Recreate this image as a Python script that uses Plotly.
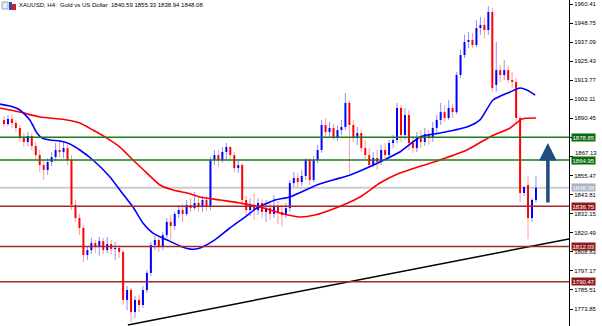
import plotly.graph_objects as go

# ---- data (XAUUSD H4 candles) ----
opens = [1889.5,1887.0,1890.1,1887.6,1884.6,1878.4,1876.0,1879.7,1873.6,1868.0,
         1861.9,1858.9,1863.8,1866.8,1871.1,1869.9,1872.3,1865.0,1837.5,1829.5,
         1823.4,1806.9,1809.9,1814.2,1811.8,1815.4,1809.9,1813.6,1810.5,1811.2,
         1808.7,1779.4,1785.5,1772.0,1779.4,1776.3,1785.5,1795.9,1813.0,1816.1,
         1811.8,1819.1,1827.1,1824.6,1832.0,1834.4,1832.0,1837.5,1835.6,1838.7,
         1836.2,1840.5,1836.9,1865.0,1868.0,1865.0,1869.9,1872.9,1868.0,1860.1,
         1861.9,1840.5,1834.4,1837.5,1834.4,1838.7,1833.2,1835.6,1832.0,1836.9,
         1833.2,1831.3,1835.6,1850.9,1854.0,1851.5,1855.2,1865.0,1852.8,1865.0,
         1871.1,1886.4,1882.1,1884.6,1878.4,1883.3,1885.2,1899.9,1886.4,1878.4,
         1881.5,1872.3,1868.0,1861.9,1866.2,1863.8,1871.1,1868.0,1875.4,1877.2,
         1896.8,1880.3,1892.5,1875.4,1872.3,1878.4,1876.0,1880.9,1878.4,1884.6,
         1889.5,1894.3,1890.7,1896.8,1894.3,1917.0,1929.2,1937.2,1938.4,1935.3,
         1945.7,1947.6,1944.5,1955.5,1910.9,1920.0,1917.0,1920.0,1913.9,1912.7,
         1890.7,1844.8,1849.7,1829.5,1840.59]
highs = [1891.9,1892.5,1893.1,1889.5,1886.4,1881.5,1882.1,1881.5,1876.0,1871.1,
         1865.0,1866.2,1869.9,1875.4,1877.2,1876.0,1874.2,1868.0,1840.5,1832.0,
         1824.6,1812.4,1817.3,1816.1,1817.9,1817.3,1817.9,1816.1,1814.8,1813.0,
         1809.9,1787.9,1786.7,1781.8,1782.4,1787.9,1797.7,1814.8,1818.5,1817.9,
         1821.0,1829.5,1831.3,1833.2,1837.5,1838.1,1840.5,1841.7,1845.4,1842.4,
         1843.0,1842.4,1866.8,1871.1,1871.1,1872.9,1875.4,1873.6,1869.9,1865.0,
         1863.2,1843.0,1841.7,1844.8,1841.7,1841.1,1840.5,1839.3,1843.6,1839.9,
         1837.5,1838.7,1852.8,1857.6,1857.0,1858.9,1866.2,1866.2,1867.4,1874.2,
         1889.5,1890.7,1888.2,1887.0,1885.8,1889.5,1906.0,1901.7,1889.5,1885.2,
         1883.3,1877.2,1872.3,1869.9,1871.1,1874.2,1875.4,1877.2,1880.3,1899.9,
         1898.6,1896.8,1895.6,1879.7,1882.1,1883.3,1884.6,1883.3,1888.2,1892.5,
         1899.9,1898.6,1901.7,1899.2,1918.8,1932.3,1941.5,1943.3,1942.7,1950.6,
         1952.5,1951.9,1959.2,1958.0,1937.2,1923.1,1926.2,1922.5,1918.8,1915.1,
         1891.9,1849.1,1855.2,1841.7,1855.33]
lows = [1885.2,1885.8,1884.6,1882.1,1876.0,1872.9,1873.6,1871.1,1865.0,1857.6,
        1852.8,1855.8,1861.3,1865.0,1866.8,1866.2,1861.9,1834.4,1827.1,1819.1,
        1802.6,1803.8,1807.5,1808.1,1806.3,1807.5,1808.1,1807.5,1803.8,1805.0,
        1776.3,1773.2,1765.9,1768.3,1772.0,1774.5,1783.6,1794.0,1809.9,1808.7,
        1809.9,1817.3,1816.1,1822.2,1829.5,1827.1,1830.7,1833.2,1834.4,1833.2,
        1833.2,1833.8,1834.4,1861.9,1860.7,1863.2,1865.0,1865.0,1857.6,1857.0,
        1837.5,1831.3,1830.7,1828.3,1831.3,1829.5,1827.1,1828.3,1829.5,1825.8,
        1824.6,1829.5,1833.2,1848.5,1847.9,1849.1,1852.8,1849.7,1851.5,1863.2,
        1869.3,1878.4,1879.1,1877.2,1876.6,1880.3,1883.3,1857.0,1876.0,1874.2,
        1869.9,1865.0,1860.1,1860.7,1858.9,1861.9,1866.2,1866.8,1872.3,1875.4,
        1876.0,1877.2,1871.1,1869.3,1869.9,1872.3,1873.6,1874.2,1876.0,1881.5,
        1886.4,1888.2,1889.5,1890.7,1893.1,1915.1,1927.4,1933.5,1933.5,1934.1,
        1941.5,1939.6,1941.5,1906.6,1906.6,1912.7,1913.9,1912.1,1909.0,1888.2,
        1839.3,1843.0,1816.7,1827.1,1838.94]
closes = [1887.0,1890.1,1887.6,1884.6,1878.4,1876.0,1879.7,1873.6,1868.0,1861.9,
          1858.9,1863.8,1866.8,1871.1,1869.9,1872.3,1865.0,1837.5,1829.5,1823.4,
          1806.9,1809.9,1814.2,1811.8,1815.4,1809.9,1813.6,1810.5,1811.2,1808.7,
          1779.4,1785.5,1772.0,1779.4,1776.3,1785.5,1795.9,1813.0,1816.1,1811.8,
          1819.1,1827.1,1824.6,1832.0,1834.4,1832.0,1837.5,1835.6,1838.7,1836.2,
          1840.5,1836.9,1865.0,1868.0,1865.0,1869.9,1872.9,1868.0,1860.1,1861.9,
          1840.5,1834.4,1837.5,1834.4,1838.7,1833.2,1835.6,1832.0,1836.9,1833.2,
          1831.3,1835.6,1850.9,1854.0,1851.5,1855.2,1865.0,1852.8,1865.0,1871.1,
          1886.4,1882.1,1884.6,1878.4,1883.3,1885.2,1899.9,1886.4,1878.4,1881.5,
          1872.3,1868.0,1861.9,1866.2,1863.8,1871.1,1868.0,1875.4,1877.2,1896.8,
          1880.3,1892.5,1875.4,1872.3,1878.4,1876.0,1880.9,1878.4,1884.6,1889.5,
          1894.3,1890.7,1896.8,1894.3,1917.0,1929.2,1937.2,1938.4,1935.3,1945.7,
          1947.6,1944.5,1955.5,1909.0,1920.0,1917.0,1920.0,1913.9,1912.7,1890.7,
          1844.8,1848.5,1829.5,1840.5,1848.08]

# moving averages: bar index, price
ma_fast_x = [-1.0,1.5,4.0,6.5,8.3,9.6,11.6,14.1,16.6,19.1,22.4,26.7,29.2,32.5,35.0,37.5,
             41.1,44.3,46.9,49.4,53.1,56.9,60.7,63.7,68.3,72.0,78.8,82.9,87.2,91.4,
             94.7,99.7,104.8,109.8,116.6,119.9,123.2,127.5,130.0,131.7,133.8]
ma_fast_y = [1899.2,1898.0,1895.6,1889.5,1881.5,1878.4,1877.2,1876.6,1874.8,1871.1,1865.0,
             1854.6,1846.6,1836.2,1826.4,1820.3,1816.1,1812.4,1810.5,1811.2,1816.1,1823.4,
             1830.1,1835.6,1840.5,1842.4,1849.7,1852.8,1855.8,1860.1,1863.8,1869.9,1879.1,
             1881.5,1885.2,1889.5,1901.7,1906.6,1909.0,1907.8,1904.7]
ma_slow_x = [-1.0,4.0,9.1,15.9,19.1,22.4,25.9,29.2,32.5,36.0,39.3,42.6,46.1,49.4,54.4,
             59.4,64.5,69.5,74.6,78.3,82.9,89.7,94.7,99.7,109.8,116.6,122.4,127.5,130.5,134.0]
ma_slow_y = [1896.8,1894.3,1891.3,1889.5,1887.6,1883.3,1878.4,1872.9,1865.0,1857.0,1849.7,
             1846.6,1844.8,1842.4,1840.5,1838.7,1836.2,1832.6,1830.1,1831.3,1835.0,1842.4,
             1850.9,1857.0,1865.0,1871.1,1879.1,1884.6,1890.1,1890.7]

green_levels = [1878.85, 1864.95]
red_levels = [1836.75, 1812.03, 1790.47]
current_price = 1848.08
trend_x = [31.2, 142.3]
trend_y = [1764.1, 1816.7]
arrow_x = 137.0
arrow_from = 1838.1
arrow_to = 1875.4
tick_vals = [1960.41,1948.75,1937.09,1925.43,1913.77,1902.11,1890.45,1878.79,1867.13,
             1855.47,1843.81,1832.15,1820.49,1808.83,1797.17,1785.51,1773.85]
hidden_ticks = [1878.79]          # fully covered by a level label in the chart
nudged_ticks = [1867.13]          # partly covered: drawn just above the level label
title_text = "XAUUSD, H4:  Gold vs US Dollar  1840.59 1855.33 1838.94 1848.08"

# ---- build candle geometry from the OHLC data ----
wu_x, wu_y, wd_x, wd_y = [], [], [], []
bu_x, bu_y, bd_x, bd_y = [], [], [], []
for i, (o, h, l, c) in enumerate(zip(opens, highs, lows, closes)):
    top, bot = max(o, c), min(o, c)
    if c >= o:
        wu_x += [i, i, None, i, i, None]; wu_y += [h, top, None, bot, l, None]
        bu_x += [i, i, None]; bu_y += [bot, top, None]
    else:
        wd_x += [i, i, None, i, i, None]; wd_y += [h, top, None, bot, l, None]
        bd_x += [i, i, None]; bd_y += [bot, top, None]

fig = go.Figure()
fig.add_trace(go.Scatter(x=wu_x, y=wu_y, mode="lines", line=dict(color="#8f8fff", width=1), hoverinfo="skip"))
fig.add_trace(go.Scatter(x=wd_x, y=wd_y, mode="lines", line=dict(color="#ff9a9a", width=1), hoverinfo="skip"))
fig.add_trace(go.Scatter(x=bu_x, y=bu_y, mode="lines", line=dict(color="#0000ff", width=2), hoverinfo="skip"))
fig.add_trace(go.Scatter(x=bd_x, y=bd_y, mode="lines", line=dict(color="#ff0000", width=2), hoverinfo="skip"))
fig.add_trace(go.Scatter(x=ma_slow_x, y=ma_slow_y, mode="lines", line=dict(color="#ff0000", width=1.6, shape="spline", smoothing=0.6), hoverinfo="skip"))
fig.add_trace(go.Scatter(x=ma_fast_x, y=ma_fast_y, mode="lines", line=dict(color="#0000ff", width=1.6, shape="spline", smoothing=0.6), hoverinfo="skip"))
fig.add_trace(go.Scatter(x=trend_x, y=trend_y, mode="lines", line=dict(color="#000000", width=1.5), hoverinfo="skip"))

shapes = []
annotations = []
shapes.append(dict(type="line", xref="paper", yref="y", x0=0, x1=1, y0=current_price, y1=current_price,
                   line=dict(color="#c9cdd3", width=2), layer="below"))
for lv in green_levels:
    shapes.append(dict(type="line", xref="paper", yref="y", x0=0, x1=1, y0=lv, y1=lv,
                       line=dict(color="#1d7a1d", width=1.5), layer="above"))
for lv in red_levels:
    shapes.append(dict(type="line", xref="paper", yref="y", x0=0, x1=1, y0=lv, y1=lv,
                       line=dict(color="#a3282a", width=1.5), layer="above"))

def label(val, bg):
    annotations.append(dict(xref="paper", yref="y", x=1, y=val, xanchor="left", xshift=2,
                            text=f"{val:.2f}", showarrow=False, bgcolor=bg, borderpad=0.5,
                            font=dict(color="white", size=6, family="Liberation Sans")))

for lv in green_levels:
    label(lv, "#0b6a0b")
for lv in red_levels:
    label(lv, "#8e1c1c")
label(current_price, "#a9b3c4")

for tv in nudged_ticks:
    annotations.append(dict(xref="paper", yref="y", x=1, y=tv, xanchor="left", xshift=4, yshift=4,
                            text=f"{tv:.2f}", showarrow=False,
                            font=dict(color="#000000", size=6, family="Liberation Sans")))

annotations.append(dict(x=arrow_x, y=arrow_to, ax=arrow_x, ay=arrow_from, xref="x", yref="y",
                        axref="x", ayref="y", showarrow=True, arrowhead=2, arrowsize=1,
                        arrowwidth=3.5, arrowcolor="#1f4e7e", text=""))
annotations.append(dict(xref="paper", yref="paper", x=0, y=1, xanchor="left", yanchor="top",
                        xshift=17, yshift=0, text=title_text, showarrow=False,
                        font=dict(size=6, color="#000000", family="Liberation Sans")))

# tiny header icons
shapes.append(dict(type="rect", xref="paper", yref="paper", x0=2/569, x1=8/569, y0=1-9/326, y1=1-2/326,
                   line=dict(color="#9aa6b8", width=1), fillcolor="#e8edf5"))
shapes.append(dict(type="rect", xref="paper", yref="paper", x0=9/569, x1=12/569, y0=1-10/326, y1=1-2/326,
                   line=dict(width=0), fillcolor="#3048c0"))
shapes.append(dict(type="rect", xref="paper", yref="paper", x0=12/569, x1=16/569, y0=1-10/326, y1=1-4/326,
                   line=dict(width=0), fillcolor="#d02020"))

tick_text = ["" if (v in hidden_ticks or v in nudged_ticks) else f"{v:.2f}" for v in tick_vals]

fig.update_layout(
    width=602, height=326,
    margin=dict(l=0, r=33, t=0, b=0),
    paper_bgcolor="white", plot_bgcolor="white",
    showlegend=False,
    shapes=shapes, annotations=annotations,
    xaxis=dict(range=[-1.008, 142.32], visible=False, fixedrange=True),
    yaxis=dict(range=[1763.46, 1962.86], side="right", showgrid=False, zeroline=False,
               showline=True, linecolor="#000000", linewidth=1,
               ticks="outside", ticklen=3, tickcolor="#000000",
               tickvals=tick_vals, ticktext=tick_text,
               tickfont=dict(size=6, color="#000000", family="Liberation Sans")),
)

fig.write_html("out.html")
